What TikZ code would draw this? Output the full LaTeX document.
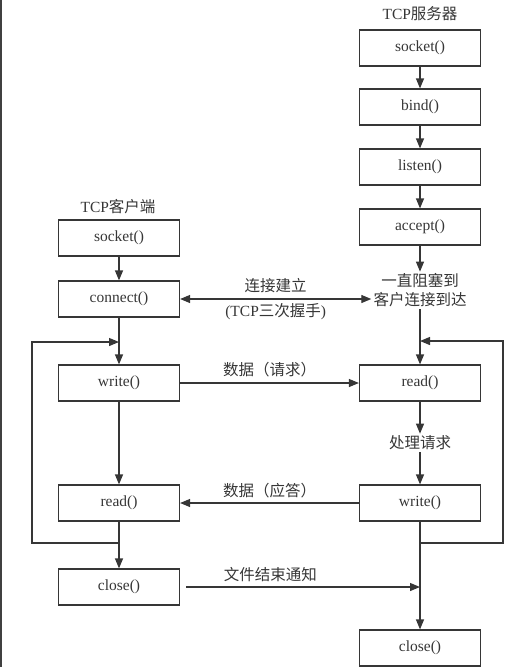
\documentclass[tikz,border=0pt]{standalone}
\usepackage{fontspec}
\setmainfont{Liberation Serif}
\newfontfamily\cjk{Noto Sans CJK SC}
\usepackage{tikz}
\usetikzlibrary{arrows.meta, positioning}
\definecolor{ink}{HTML}{363636}

\begin{document}
\begin{tikzpicture}[x=1pt, y=-1pt, font=\fontsize{15.5}{18}\selectfont, color=ink,
    callbox/.style={rectangle, draw=ink, line width=1.2pt, minimum height=36pt, minimum width=121pt, text centered},
    flow/.style={-{Triangle[length=10pt, width=8pt]}, line width=1.2pt},
    link/.style={line width=1.2pt},
    tag/.style={inner sep=2pt}]
  \useasboundingbox (0,0) rectangle (513,667);
  \draw[line width=1.6pt, black!75] (1,0) -- (1,667);

  % client side
  \node[tag] (ctitle) at (118,207) {TCP{\cjk 客户端}};
  \node[callbox] (csock) at (119,238) {socket()};
  \node[callbox] (conn) at (119,299) {connect()};
  \node[callbox] (cwrite) at (119,383) {write()};
  \node[callbox] (cread) at (119,503) {read()};
  \node[callbox] (cclose) at (119,587) {close()};

  % server side
  \node[tag] (stitle) at (420,14) {TCP{\cjk 服务器}};
  \node[callbox] (ssock) at (420,48) {socket()};
  \node[callbox] (sbind) at (420,107) {bind()};
  \node[callbox] (slisten) at (420,167) {listen()};
  \node[callbox] (saccept) at (420,227) {accept()};
  \node[tag] (waitA) at (420,281) {\cjk 一直阻塞到};
  \node[tag] (waitB) at (420,300) {\cjk 客户连接到达};
  \node[callbox] (sread) at (420,383) {read()};
  \node[tag] (proc) at (420,443) {\cjk 处理请求};
  \node[callbox] (swrite) at (420,503) {write()};
  \node[callbox] (sclose) at (420,648) {close()};

  \coordinate (cback) at (119,342);
  \coordinate (cjoin) at (119,543);
  \coordinate (sback) at (420,341);
  \coordinate (sjoin) at (420,543);
  \coordinate (fin) at (420,587);

  \draw[flow] (csock) -- (conn);
  \draw[flow] (conn) -- (cwrite);
  \draw[flow] (cwrite) -- (cread);
  \draw[link] (cread) -- (cjoin);
  \draw[flow] (cjoin) -| (32,342) -- (cback);
  \draw[flow] (cjoin) -- (cclose);

  \draw[flow] (ssock) -- (sbind);
  \draw[flow] (sbind) -- (slisten);
  \draw[flow] (slisten) -- (saccept);
  \draw[flow] (saccept) -- (waitA);
  \draw[flow] (waitB) -- (sread);
  \draw[flow] (sread) -- (proc);
  \draw[flow] (proc) -- (swrite);
  \draw[link] (swrite) -- (sjoin);
  \draw[flow] (sjoin) -| (503,341) -- (sback);
  \draw[flow] (sjoin) -- (sclose);

  \draw[flow, {Triangle[length=10pt, width=8pt]}-{Triangle[length=10pt, width=8pt]}] (conn.east) -- (conn.east -| waitB.west)
    node[midway, above, yshift=2pt] {\cjk 连接建立}
    node[midway, below, yshift=-1pt] {(TCP{\cjk 三次握手})};
  \draw[flow] (cwrite) -- (sread) node[midway, above, yshift=2pt] {\cjk 数据（请求）};
  \draw[flow] (swrite) -- (cread) node[midway, above, yshift=1pt] {\cjk 数据（应答）};
  \draw[flow] ([xshift=6pt]cclose.east) -- (fin) node[pos=0.36, above, yshift=1pt] {\cjk 文件结束通知};
\end{tikzpicture}
\end{document}
